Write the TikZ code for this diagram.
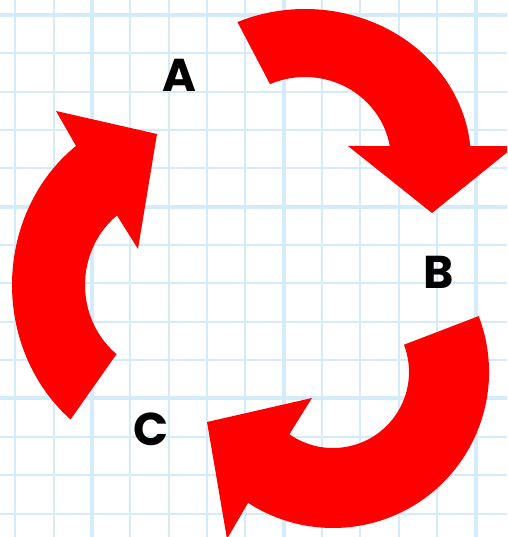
\documentclass[tikz,border=0pt]{standalone}
\usepackage{fontspec}
\newfontfamily\labelfont{Poppins}
\definecolor{gridblue}{RGB}{212,235,250}
\colorlet{gridlines}{gridblue}
\colorlet{arrowred}{red}

\begin{document}
\begin{tikzpicture}[x=1pt, y=1pt,
        letter/.style={font=\labelfont\bfseries\fontsize{46}{46}\selectfont, inner sep=0pt}]
        % page
        \clip (0,0) rectangle (507,537);
        \fill[white] (0,0) rectangle (507,537);
        % grid
        \draw[gridlines, line width=2pt, step=38.35, shift={(15.3,23.45)}] (-40,-40) grid (520,540);
        \draw[gridlines, line width=4pt, step=191.75, shift={(92,138.5)}] (-200,-200) grid (500,500);
        % arrow centres
        \coordinate (ab) at (305,377);
        \coordinate (bc) at (333,165);
        \coordinate (ca) at (170,252);
        % arrow A to B
        \fill[arrowred] ([shift={(114:166 and 151)}]ab)
            arc[start angle=114, end angle=5.3, x radius=166, y radius=151]
            -- (515,391) -- (432,324) -- (348,391)
            -- ([shift={(9.7:86 and 83)}]ab)
            arc[start angle=9.7, end angle=114, x radius=86, y radius=83] -- cycle;
        % arrow B to C
        \fill[arrowred] ([shift={(21:156)}]bc)
            arc[start angle=21, end angle=-123, radius=156]
            -- (227,-2) -- (207,115) -- (312,139)
            -- ([shift={(-125:76)}]bc)
            arc[start angle=-125, end angle=21, radius=76] -- cycle;
        % arrow C to A
        \fill[arrowred] ([shift={(231:158 and 173)}]ca)
            arc[start angle=231, end angle=126.5, x radius=158, y radius=173]
            -- (56,426) -- (157,403) -- (138,288)
            -- ([shift={(128.6:85 and 89)}]ca)
            arc[start angle=128.6, end angle=231, x radius=85, y radius=89] -- cycle;
        % labels
        \node[letter] (A) at (179,462) {A};
        \node[letter] (B) at (439,265) {B};
        \node[letter] (C) at (151,108) {C};
\end{tikzpicture}
\end{document}
